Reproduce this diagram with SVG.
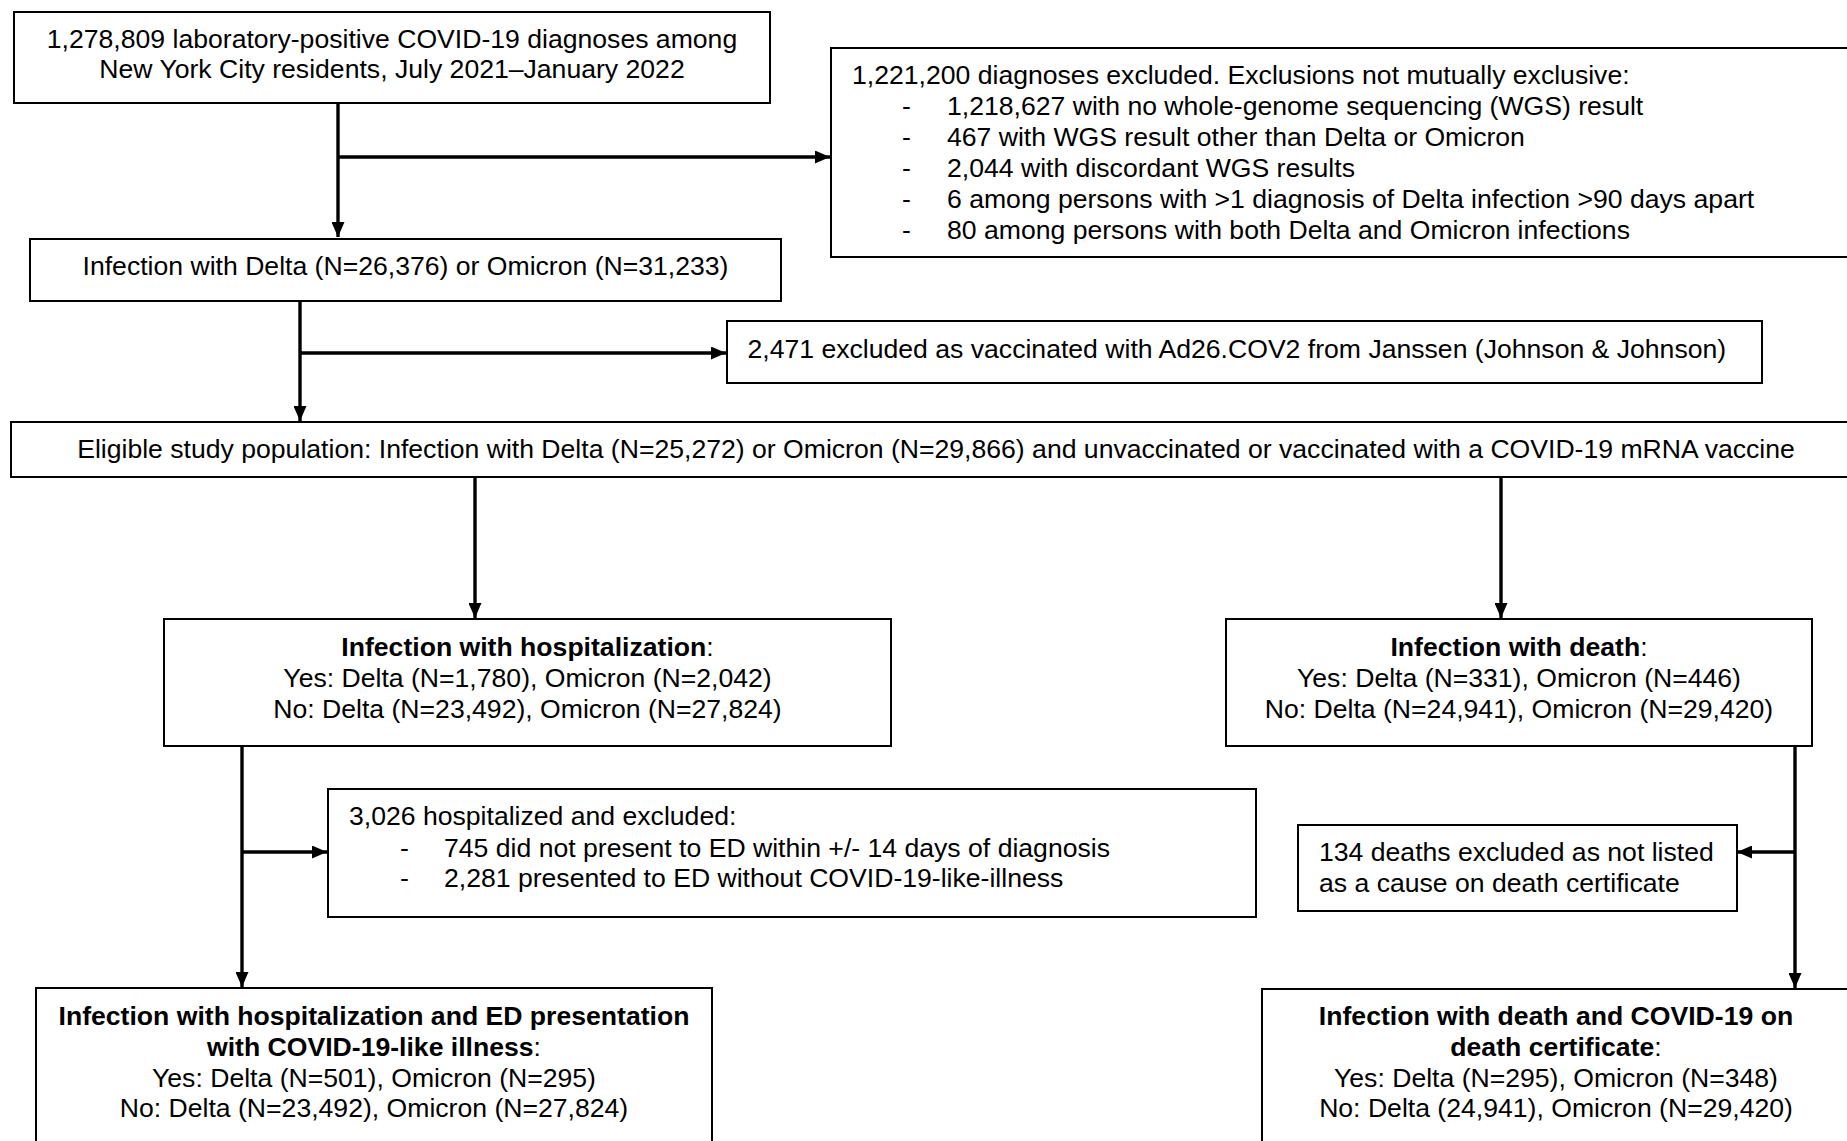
<svg xmlns="http://www.w3.org/2000/svg" width="1847" height="1141" viewBox="0 0 1847 1141">
<defs>
<style>
.box{fill:#fff;stroke:#000;stroke-width:2}
text{font-family:"Liberation Sans",Arial,sans-serif;font-size:26.6px;fill:#000}
.c{text-anchor:middle}
.b{font-weight:bold}
.conn{fill:none;stroke:#000;stroke-width:3.4}
</style>
<marker id="arr" viewBox="0 0 15 13" refX="15" refY="6.5" markerWidth="15" markerHeight="13" markerUnits="userSpaceOnUse" orient="auto">
<path d="M0,0 L15,6.5 L0,13 z" fill="#000"/>
</marker>
</defs>
<rect width="1847" height="1141" fill="#fff"/>

<g id="connectors">
<path class="conn" d="M338,103 V237" marker-end="url(#arr)"/>
<path class="conn" d="M338,157 H830" marker-end="url(#arr)"/>
<path class="conn" d="M300,301 V421" marker-end="url(#arr)"/>
<path class="conn" d="M300,353 H726" marker-end="url(#arr)"/>
<path class="conn" d="M475,477 V618" marker-end="url(#arr)"/>
<path class="conn" d="M1501,477 V618" marker-end="url(#arr)"/>
<path class="conn" d="M242,746 V987" marker-end="url(#arr)"/>
<path class="conn" d="M242,852 H327" marker-end="url(#arr)"/>
<path class="conn" d="M1795,746 V988" marker-end="url(#arr)"/>
<path class="conn" d="M1795,852 H1737" marker-end="url(#arr)"/>
</g>

<g id="n1">
<rect class="box" x="14" y="12" width="756" height="91"/>
<text class="c" x="392" y="47.5">1,278,809 laboratory-positive COVID-19 diagnoses among</text>
<text class="c" x="392" y="78">New York City residents, July 2021–January 2022</text>
</g>

<g id="n2">
<rect class="box" x="831" y="48" width="1030" height="209"/>
<text x="852" y="84">1,221,200 diagnoses excluded. Exclusions not mutually exclusive:</text>
<text x="902" y="114.5">-</text><text x="947" y="114.5">1,218,627 with no whole-genome sequencing (WGS) result</text>
<text x="902" y="145.5">-</text><text x="947" y="145.5">467 with WGS result other than Delta or Omicron</text>
<text x="902" y="176.5">-</text><text x="947" y="176.5">2,044 with discordant WGS results</text>
<text x="902" y="208">-</text><text x="947" y="208">6 among persons with &gt;1 diagnosis of Delta infection &gt;90 days apart</text>
<text x="902" y="239">-</text><text x="947" y="239">80 among persons with both Delta and Omicron infections</text>
</g>

<g id="n3">
<rect class="box" x="30" y="239" width="751" height="62"/>
<text class="c" x="405.5" y="275">Infection with Delta (N=26,376) or Omicron (N=31,233)</text>
</g>

<g id="n4">
<rect class="box" x="727" y="321" width="1035" height="62"/>
<text x="747.5" y="358">2,471 excluded as vaccinated with Ad26.COV2 from Janssen (Johnson &amp; Johnson)</text>
</g>

<g id="n5">
<rect class="box" x="11" y="422" width="1846" height="55"/>
<text class="c" x="936" y="458">Eligible study population: Infection with Delta (N=25,272) or Omicron (N=29,866) and unvaccinated or vaccinated with a COVID-19 mRNA vaccine</text>
</g>

<g id="n6">
<rect class="box" x="164" y="619" width="727" height="127"/>
<text class="c" x="527.5" y="656"><tspan class="b">Infection with hospitalization</tspan>:</text>
<text class="c" x="527.5" y="686.5">Yes: Delta (N=1,780), Omicron (N=2,042)</text>
<text class="c" x="527.5" y="717.5">No: Delta (N=23,492), Omicron (N=27,824)</text>
</g>

<g id="n7">
<rect class="box" x="1226" y="619" width="586" height="127"/>
<text class="c" x="1519" y="656"><tspan class="b">Infection with death</tspan>:</text>
<text class="c" x="1519" y="686.5">Yes: Delta (N=331), Omicron (N=446)</text>
<text class="c" x="1519" y="717.5">No: Delta (N=24,941), Omicron (N=29,420)</text>
</g>

<g id="n8">
<rect class="box" x="328" y="789" width="928" height="128"/>
<text x="349" y="824.5">3,026 hospitalized and excluded:</text>
<text x="400" y="857">-</text><text x="444" y="857">745 did not present to ED within +/- 14 days of diagnosis</text>
<text x="400" y="887">-</text><text x="444" y="887">2,281 presented to ED without COVID-19-like-illness</text>
</g>

<g id="n9">
<rect class="box" x="1298" y="825" width="439" height="86"/>
<text x="1319" y="861">134 deaths excluded as not listed</text>
<text x="1319" y="891.5">as a cause on death certificate</text>
</g>

<g id="n10">
<rect class="box" x="36" y="988" width="676" height="170"/>
<text class="c b" x="374" y="1024.5">Infection with hospitalization and ED presentation</text>
<text class="c" x="374" y="1055.5"><tspan class="b">with COVID-19-like illness</tspan>:</text>
<text class="c" x="374" y="1086.5">Yes: Delta (N=501), Omicron (N=295)</text>
<text class="c" x="374" y="1117">No: Delta (N=23,492), Omicron (N=27,824)</text>
</g>

<g id="n11">
<rect class="box" x="1262" y="989" width="600" height="170"/>
<text class="c b" x="1556" y="1024.5">Infection with death and COVID-19 on</text>
<text class="c" x="1556" y="1055.5"><tspan class="b">death certificate</tspan>:</text>
<text class="c" x="1556" y="1086.5">Yes: Delta (N=295), Omicron (N=348)</text>
<text class="c" x="1556" y="1117">No: Delta (24,941), Omicron (N=29,420)</text>
</g>
</svg>
